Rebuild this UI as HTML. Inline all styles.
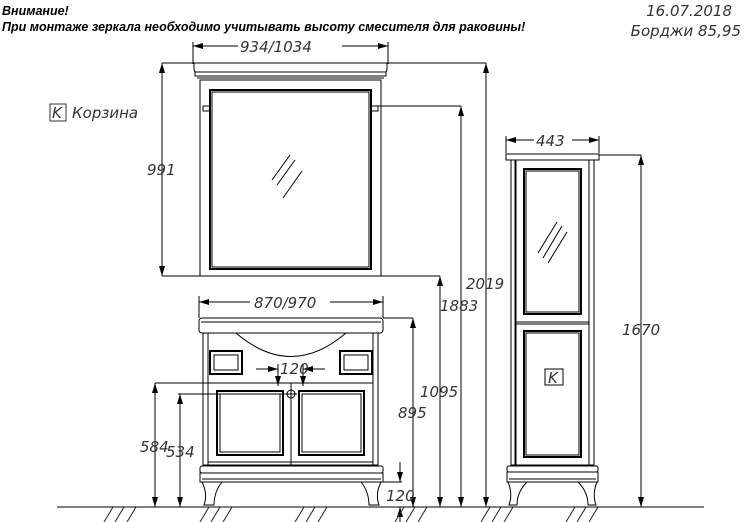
<!DOCTYPE html>
<html><head><meta charset="utf-8"><style>
html,body{margin:0;padding:0;background:#fff;}
svg{display:block;}
.d{font-family:"DejaVu Sans","Liberation Sans",sans-serif;font-style:italic;font-size:15px;fill:#333;}
</style></head><body>
<svg width="745" height="522" viewBox="0 0 745 522" xmlns="http://www.w3.org/2000/svg">
<defs>
<marker id="a" viewBox="0 0 10 6" refX="10" refY="3" markerWidth="10" markerHeight="6" orient="auto-start-reverse" markerUnits="userSpaceOnUse"><path d="M0,0 L10,3 L0,6 z" fill="#000"/></marker>
</defs>
<g font-family="'Liberation Sans','Noto Sans CJK SC',sans-serif" font-style="italic" font-weight="bold" font-size="12.5" fill="#000">
<text x="2" y="15">Внимание!</text>
<text x="2" y="31">При монтаже зеркала необходимо учитывать высоту смесителя для раковины!</text>
</g>
<text class="d" x="732" y="16" text-anchor="end" font-size="14">16.07.2018</text>
<text class="d" x="741" y="36" text-anchor="end" font-size="14">Борджи  85,95</text>
<rect x="50" y="104" width="16" height="17" fill="none" stroke="#333"/>
<text class="d" x="52" y="118" font-size="13">K</text>
<text class="d" x="72" y="118" font-size="14">Корзина</text>

<g fill="none" stroke="#000" stroke-width="1">
<!-- mirror -->
<line x1="193" y1="42" x2="193" y2="64"/><line x1="388" y1="42" x2="388" y2="64"/>
<line x1="193" y1="46" x2="238" y2="46" marker-start="url(#a)"/><line x1="342" y1="46" x2="388" y2="46" marker-end="url(#a)"/>
<line x1="162" y1="63" x2="486" y2="63"/>
<path d="M194,63 H387 V68 Q387,72 385,72 H196 Q194,72 194,68 Z"/>
<path d="M195,72 H386 V76 H195 Z"/>
<line x1="197" y1="78" x2="384" y2="78"/>
<rect x="200" y="80" width="181" height="196"/>
<rect x="210" y="90" width="161" height="179" stroke-width="2"/>
<rect x="212" y="92" width="157" height="175"/>
<rect x="203" y="106" width="7" height="5"/><rect x="371" y="106" width="7" height="5"/>
<line x1="272" y1="180" x2="290" y2="155"/><line x1="277" y1="185" x2="295" y2="160"/><line x1="283" y1="198" x2="302" y2="171"/>
<line x1="162" y1="63" x2="162" y2="276" marker-start="url(#a)" marker-end="url(#a)"/>
<line x1="162" y1="276" x2="200" y2="276"/>
<line x1="381" y1="276" x2="440" y2="276"/>
<line x1="378" y1="106" x2="461" y2="106"/>
<line x1="440" y1="276" x2="440" y2="507" marker-start="url(#a)" marker-end="url(#a)"/>
<line x1="461" y1="106" x2="461" y2="507" marker-start="url(#a)" marker-end="url(#a)"/>
<line x1="486" y1="63" x2="486" y2="507" marker-start="url(#a)" marker-end="url(#a)"/>

<!-- vanity -->
<line x1="199" y1="296" x2="199" y2="318"/><line x1="383" y1="296" x2="383" y2="318"/>
<line x1="199" y1="302" x2="250" y2="302" marker-start="url(#a)"/><line x1="330" y1="302" x2="383" y2="302" marker-end="url(#a)"/>
<rect x="199" y="318" width="184" height="15" rx="3"/>
<line x1="201" y1="322" x2="381" y2="322"/>
<line x1="383" y1="318" x2="413" y2="318"/>
<path d="M236,333 Q291,380 346,333"/>
<rect x="203" y="333" width="175" height="132"/>
<line x1="208" y1="333" x2="208" y2="465"/><line x1="373" y1="333" x2="373" y2="465"/>
<rect x="210" y="351" width="32" height="23" stroke-width="2"/><rect x="214" y="355" width="24" height="15"/>
<rect x="340" y="351" width="32" height="23" stroke-width="2"/><rect x="344" y="355" width="24" height="15"/>
<line x1="208" y1="383" x2="373" y2="383"/>
<line x1="291" y1="383" x2="291" y2="465"/>
<rect x="217" y="391" width="66" height="64" stroke-width="2"/><rect x="220" y="394" width="60" height="58"/>
<rect x="299" y="391" width="65" height="64" stroke-width="2"/><rect x="302" y="394" width="59" height="58"/>
<circle cx="291" cy="394" r="4"/><line x1="285" y1="394" x2="297" y2="394"/><line x1="291" y1="388" x2="291" y2="400"/>
<line x1="208" y1="462" x2="373" y2="462"/>
<rect x="200" y="466" width="183" height="7" rx="2"/>
<rect x="200" y="473" width="183" height="9"/>
<line x1="202" y1="479" x2="381" y2="479"/>
<path d="M202,482 Q208,494 204,505 H214 Q214,492 222,482"/>
<path d="M381,482 Q375,494 379,505 H369 Q369,492 361,482"/>
<line x1="256" y1="369" x2="278" y2="369" marker-end="url(#a)"/><line x1="325" y1="369" x2="303" y2="369" marker-end="url(#a)"/>
<line x1="278" y1="364" x2="278" y2="386" marker-end="url(#a)"/><line x1="303" y1="364" x2="303" y2="386" marker-end="url(#a)"/>
<line x1="155" y1="383" x2="208" y2="383"/><line x1="178" y1="394" x2="287" y2="394"/>
<line x1="155" y1="383" x2="155" y2="507" marker-start="url(#a)" marker-end="url(#a)"/>
<line x1="180" y1="394" x2="180" y2="507" marker-start="url(#a)" marker-end="url(#a)"/>
<line x1="413" y1="318" x2="413" y2="507" marker-start="url(#a)" marker-end="url(#a)"/>
<line x1="383" y1="482" x2="402" y2="482"/>
<line x1="400" y1="462" x2="400" y2="482" marker-end="url(#a)"/>
<line x1="400" y1="522" x2="400" y2="507" marker-end="url(#a)"/>

<!-- tall cabinet -->
<line x1="506" y1="136" x2="506" y2="153"/><line x1="599" y1="136" x2="599" y2="153"/>
<line x1="506" y1="140" x2="534" y2="140" marker-start="url(#a)"/><line x1="572" y1="140" x2="599" y2="140" marker-end="url(#a)"/>
<rect x="506" y="154" width="93" height="6"/>
<line x1="599" y1="155" x2="641" y2="155"/>
<rect x="511" y="160" width="83" height="305"/>
<line x1="516" y1="160" x2="516" y2="465"/><line x1="589" y1="160" x2="589" y2="465"/>
<line x1="515" y1="160" x2="515" y2="465"/>
<rect x="524" y="169" width="57" height="145" stroke-width="2"/><rect x="526" y="171" width="53" height="141"/>
<line x1="516" y1="322" x2="589" y2="322"/><line x1="516" y1="324" x2="589" y2="324"/>
<rect x="524" y="331" width="57" height="126" stroke-width="2"/><rect x="526" y="333" width="53" height="122"/>
<line x1="538" y1="253" x2="557" y2="222"/><line x1="543" y1="258" x2="562" y2="226"/><line x1="548" y1="263" x2="567" y2="232"/>
<rect x="545" y="369" width="18" height="16"/>
<rect x="507" y="466" width="91" height="6" rx="2"/>
<rect x="507" y="472" width="91" height="10"/>
<line x1="509" y1="479" x2="596" y2="479"/>
<path d="M508,482 Q513,494 509,505 H517 Q517,492 527,482"/>
<path d="M597,482 Q592,494 596,505 H588 Q588,492 578,482"/>
<line x1="641" y1="155" x2="641" y2="507" marker-start="url(#a)" marker-end="url(#a)"/>

<!-- floor -->
<line x1="57" y1="507" x2="704" y2="507"/>
<g stroke="#222">
<path d="M104,522 L113,507 M115,522 L124,507 M127,522 L136,507"/>
<path d="M200,522 L209,507 M211,522 L220,507 M223,522 L232,507"/>
<path d="M295,522 L304,507 M306,522 L315,507 M318,522 L327,507"/>
<path d="M395,522 L404,507 M406,522 L415,507 M418,522 L427,507"/>
<path d="M481,522 L490,507 M492,522 L501,507 M504,522 L513,507"/>
<path d="M566,522 L575,507 M577,522 L586,507 M589,522 L598,507"/>
</g>
</g>
<text class="d" x="240" y="52" font-size="15">934/1034</text>
<text class="d" x="147" y="175">991</text>
<text class="d" x="254" y="308" font-size="15">870/970</text>
<text class="d" x="280" y="374" font-size="14">120</text>
<text class="d" x="140" y="452">584</text>
<text class="d" x="166" y="457">534</text>
<text class="d" x="398" y="418">895</text>
<text class="d" x="420" y="397">1095</text>
<text class="d" x="440" y="311">1883</text>
<text class="d" x="466" y="289">2019</text>
<text class="d" x="386" y="501" font-size="14">120</text>
<text class="d" x="536" y="146">443</text>
<text class="d" x="622" y="335">1670</text>
<text class="d" x="548" y="383" font-size="13">K</text>
</svg>
</body></html>
